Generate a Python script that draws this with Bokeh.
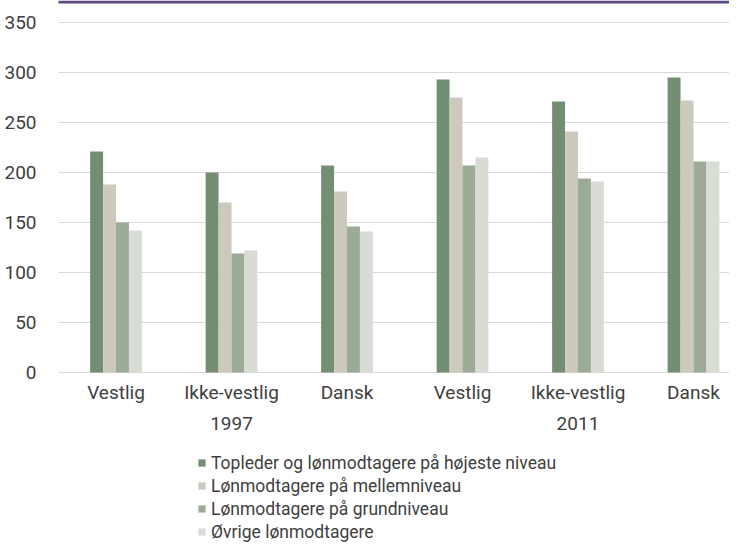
from bokeh.plotting import figure
from bokeh.models import (ColumnDataSource, Range1d, FixedTicker,
                          Legend, LegendItem, BoxAnnotation)
from bokeh.core.properties import value
from bokeh.transform import dodge
from bokeh.embed import file_html
from bokeh.resources import INLINE

# ---- data ----
categories = ["Vestlig", "Ikke-vestlig", "Dansk", "Vestlig", "Ikke-vestlig", "Dansk"]
years = ["1997", "2011"]
topleder = [221, 200, 207, 293, 271, 295]
mellemniveau = [188, 170, 181, 275, 241, 272]
grundniveau = [150, 119, 146, 207, 194, 211]
ovrige = [142, 122, 141, 215, 191, 211]
series_names = ["Topleder og lønmodtagere på højeste niveau",
                "Lønmodtagere på mellemniveau",
                "Lønmodtagere på grundniveau",
                "Øvrige lønmodtagere"]
y_ticks = [0, 50, 100, 150, 200, 250, 300, 350]

# ---- styling ----
colors = ["#748e74", "#cdc9bd", "#9bab97", "#d8dcd5"]
FONT = "Roboto"
TXT = "#404040"
bar_w = 0.112

idx = list(range(len(categories)))
source = ColumnDataSource(dict(idx=idx, s0=topleder, s1=mellemniveau,
                               s2=grundniveau, s3=ovrige))

# frame spans the full height; 1 px per unit on y, 350 sits 22px below top
p = figure(width=729, height=542, output_backend="svg", toolbar_location=None,
           tools="", x_range=Range1d(-0.498, 5.312), y_range=Range1d(-170, 372),
           min_border_left=58, min_border_right=0, min_border_top=0,
           min_border_bottom=0)
p.outline_line_color = None
p.background_fill_color = "white"
p.border_fill_color = "white"

renderers = []
offsets = [-1.5, -0.5, 0.5, 1.5]
for i, (col, c) in enumerate(zip(["s0", "s1", "s2", "s3"], colors)):
    r = p.vbar(x=dodge("idx", offsets[i] * bar_w, range=p.x_range), top=col,
               width=bar_w, source=source, fill_color=c, line_color=None)
    renderers.append(r)

# y axis
p.yaxis.ticker = FixedTicker(ticks=y_ticks)
p.yaxis.axis_line_color = None
p.yaxis.major_tick_line_color = None
p.yaxis.minor_tick_line_color = None
p.yaxis.major_label_text_font = FONT
p.yaxis.major_label_text_font_size = "19px"
p.yaxis.major_label_text_color = TXT
p.yaxis.major_label_standoff = 16
p.ygrid.ticker = FixedTicker(ticks=y_ticks)
p.ygrid.grid_line_color = "#d9d9d9"
p.ygrid.grid_line_width = 1
p.xgrid.grid_line_color = None
p.xaxis.visible = False

# category labels and year labels
cat_src = ColumnDataSource(dict(x=idx, y=[0] * len(idx), t=categories))
p.text(x="x", y="y", text="t", source=cat_src, y_offset=20,
       text_align="center", text_baseline="middle",
       text_font=value(FONT), text_font_size="19px", text_color=TXT)
year_pos = [sum(idx[0:3]) / 3, sum(idx[3:6]) / 3]
yr_src = ColumnDataSource(dict(x=year_pos, y=[0, 0], t=years))
p.text(x="x", y="y", text="t", source=yr_src, y_offset=51,
       text_align="center", text_baseline="middle",
       text_font=value(FONT), text_font_size="19px", text_color=TXT)

# legend
legend = Legend(items=[LegendItem(label=n, renderers=[r]) for n, r in zip(series_names, renderers)],
                location=(139, 0), orientation="vertical")
legend.label_text_font = FONT
legend.label_text_font_size = "17.5px"
legend.label_text_color = TXT
legend.glyph_width = 9
legend.glyph_height = 9
legend.label_standoff = 5
legend.label_height = 21
legend.spacing = 2
legend.padding = 0
legend.margin = 0
legend.border_line_color = None
legend.background_fill_alpha = 0
p.add_layout(legend, "center")

# purple top rule
p.add_layout(BoxAnnotation(top=0, bottom=3, top_units="canvas", bottom_units="canvas",
                           left=0, right=729, left_units="canvas", right_units="canvas",
                           fill_color="#5e4a86", fill_alpha=1, line_color=None))

open("out.html", "w").write(file_html(p, INLINE))
